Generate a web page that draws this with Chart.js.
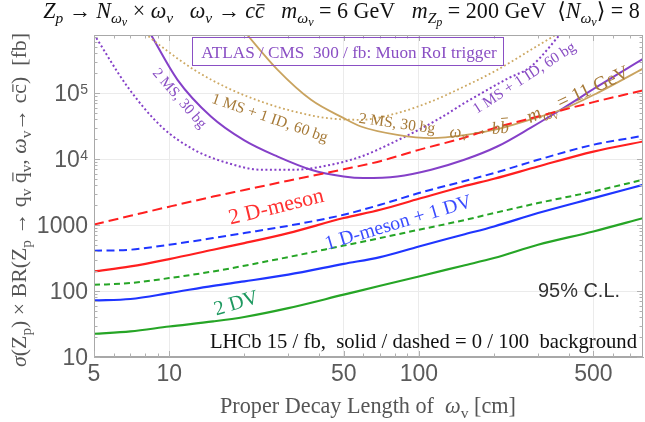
<!DOCTYPE html>
<html><head><meta charset="utf-8">
<script src="https://cdn.jsdelivr.net/npm/chart.js@4.4.1/dist/chart.umd.min.js"></script>
<style>html,body{margin:0;padding:0;background:#fff}canvas{display:block}</style>
</head><body>
<canvas id="c" width="645" height="422"></canvas>
<script>
// ---------------- data ----------------
const xTickVals = [5, 10, 50, 100, 500];
const xTickLabels = ['5', '10', '50', '100', '500'];
const yTickVals = [10, 100, 1000, 1e4, 1e5];
const yTickBase = ['10', '100', '1000', '10', '10'];
const yTickExp = ['', '', '', '4', '5'];

// LHCb 15/fb curves (solid = 0 background, dashed = 100 background)
const lhcbX = [5, 7, 10, 15, 20, 30, 50, 70, 100, 150, 200, 300, 500, 790];
const twoDV_0bg = [22.5, 24.4, 29, 34.6, 40.4, 55, 88, 120, 166, 242, 316, 502, 800, 1270];
const twoDV_100bg = [124, 132, 157, 198, 242, 327, 488, 635, 849, 1175, 1520, 2155, 3230, 4860];
const dmDV_0bg = [72, 75.7, 93, 120, 140, 177, 258, 327, 474, 713, 953, 1520, 2565, 4075];
const dmDV_100bg = [408, 423, 503, 635, 756, 975, 1432, 2030, 3055, 4580, 6140, 9750, 16500, 22500];
const twoDM_0bg = [198, 236, 305, 423, 533, 756, 1277, 1706, 2500, 3845, 5030, 7725, 13000, 18500];
const twoDM_100bg = [1020, 1380, 1900, 2700, 3400, 4700, 7000, 9300, 13800, 20800, 29500, 44200, 73000, 110000];

// ATLAS/CMS 300/fb, muon RoI trigger, omega -> c cbar (purple)
const msmsX = [8.4, 10.8, 14.7, 20, 27.2, 37, 50, 60, 82, 112, 152, 206, 281, 381, 518, 790];
const msmsY = [800000, 159000, 44200, 19200, 10900, 6900, 5450, 5150, 5450, 6900, 9750, 15500, 30000, 60000, 125000, 330000];
const msidX = [5, 6.8, 9.3, 12.6, 17.2, 23.3, 31.7, 43, 58.6, 82, 122, 152, 226, 281, 385];
const msidY = [780000, 126000, 31200, 13800, 8700, 6900, 6900, 8000, 10900, 19200, 42000, 70500, 165000, 253000, 950000];

// omega -> b bbar, m = 11 GeV (gold)
const bbMsmsX = [20, 27.2, 37, 50, 58.6, 82, 112, 152, 206, 281, 381, 518, 790];
const bbMsmsY = [860000, 225000, 79100, 41800, 31200, 23300, 20800, 23000, 28500, 40000, 58000, 100000, 235000];
const bbMsidX = [8.0, 9.3, 12.6, 17.2, 23.3, 31.7, 43, 58.6, 82, 112, 152, 206, 281, 370];
const bbMsidY = [800000, 510000, 225000, 119000, 74600, 52600, 41800, 39400, 49800, 74600, 126000, 225000, 453000, 850000];

// ---------------- styling ----------------
const SERIF = '"Liberation Serif", "DejaVu Serif", serif';
const SANS = '"Liberation Sans", Arial, sans-serif';
const COL = {red:'#ff1f1f', blue:'#1f35ff', green:'#26a526', purple:'#8540c8', gold:'#c9a35f', goldDot:'#cda862'};
const TXT = {red:'#ff3030', blue:'#3b4cff', green:'#1e9960', purple:'#8a4fc4', gold:'#a67a38'};

function pts(xs, ys){ return xs.map((x,i)=>({x:x, y:ys[i]})); }
function ds(xs, ys, color, dash, width){
  return {data: pts(xs, ys), borderColor: color, borderWidth: width||2, borderDash: dash||[],
          pointRadius: 0, fill: false, cubicInterpolationMode: 'monotone'};
}

// ---------------- rich text helper ----------------
function segFont(f, size, fam){
  const sz = size*(f.includes('S')?0.55:f.includes('s')?0.7:f.includes('p')?0.6:1);
  return [(f.includes('i')?'italic ':'') + sz.toFixed(2) + 'px ' + fam, sz];
}
function measureRich(ctx, segs, size, fam){
  let w = 0;
  for (const [t,f] of segs){ ctx.font = segFont(f||'', size, fam)[0]; w += ctx.measureText(t).width; }
  return w;
}
function drawRich(ctx, segs, o){
  const fam = o.family || SERIF;
  let size = o.size || 16;
  ctx.save();
  if (o.width){ size = size*o.width/measureRich(ctx, segs, size, fam); }
  const W = measureRich(ctx, segs, size, fam);
  ctx.translate(o.x, o.y);
  ctx.rotate((o.angle||0)*Math.PI/180);
  ctx.fillStyle = o.color; ctx.strokeStyle = o.color;
  ctx.textBaseline = 'alphabetic'; ctx.textAlign = 'left';
  let x = o.align==='left' ? 0 : o.align==='right' ? -W : -W/2;
  const by = o.valign==='baseline' ? 0 : size*0.33;
  for (const [t,f0] of segs){
    const f = f0||'';
    const [font, sz] = segFont(f, size, fam);
    ctx.font = font;
    const dy = f.includes('S') ? size*0.36 : f.includes('s') ? size*0.22 : f.includes('p') ? -size*0.38 : 0;
    ctx.fillText(t, x, by+dy);
    const w = ctx.measureText(t).width;
    if (f.includes('b') || f.includes('B')){
      const yy = by + dy - sz*(f.includes('B')?0.86:0.6);
      ctx.lineWidth = Math.max(0.8, sz*0.055);
      ctx.beginPath(); ctx.moveTo(x+w*0.18, yy); ctx.lineTo(x+w*0.98, yy); ctx.stroke();
    }
    x += w;
  }
  ctx.restore();
}

// ---------------- texts ----------------
const titleSegs = [['Z','i'],['p','is'],[' → ',''],['N','i'],['ω','is'],['v','iS'],[' × ',''],['ω','i'],['v','is'],['   ',''],
  ['ω','i'],['v','is'],[' → ',''],['c','i'],['c','ib'],['   ',''],['m','i'],['ω','is'],['v','iS'],[' = 6 GeV   ',''],
  ['m','i'],['Z','is'],['p','iS'],[' = 200 GeV  ',''],['⟨',''],['N','i'],['ω','is'],['v','iS'],['⟩ = 8','']];
const yTitleSegs = [['σ','i'],['(Z',''],['p','s'],[') × BR(Z',''],['p','s'],[' → q',''],['v','s'],[' ',''],['q','b'],['v','s'],
  [', ',''],['ω','i'],['v','s'],['→ c',''],['c','b'],[')  [fb]','']];
const xTitleSegs = [['Proper Decay Length of  ',''],['ω','i'],['v','s'],[' [cm]','']];

const labels = [
  {segs:[['2 MS, 30 bg','']], x:180, y:98, angle:49, width:74, color:TXT.purple},
  {segs:[['1 MS + 1 ID, 60 bg','']], x:270, y:117.5, angle:19, width:122, color:TXT.gold},
  {segs:[['2 MS, 30 bg','']], x:397, y:123, angle:8, width:77, color:TXT.gold},
  {segs:[['ω','i'],['v','is'],[' → ',''],['b','i'],['b','iB']], x:479, y:129.5, angle:-5, width:60, color:TXT.gold},
  {segs:[['m','i'],['ω','is'],['v','iS'],[' = 11 GeV','']], x:577.5, y:94, angle:-25, width:111, color:TXT.gold},
  {segs:[['1 MS + 1 ID, 60 bg','']], x:524, y:77.5, angle:-33, width:119, color:TXT.purple},
  {segs:[['2 D-meson','']], x:276, y:206, angle:-13.8, width:97, color:TXT.red},
  {segs:[['1 D-meson + 1 DV','']], x:398, y:222, angle:-16.5, width:152, color:TXT.blue},
  {segs:[['2 DV','']], x:236, y:302.5, angle:-16.5, width:45, color:TXT.green},
];

const textPlugin = {
  id: 'texts',
  afterDraw(chart){
    const ctx = chart.ctx, ca = chart.chartArea;
    const xs = chart.scales.x, ys = chart.scales.y;
    // frame
    ctx.save();
    ctx.strokeStyle = '#a8a8a8'; ctx.lineWidth = 1;
    ctx.strokeRect(ca.left+0.5, ca.top+0.5, ca.right-ca.left-1, ca.bottom-ca.top-1);
    // minor / major ticks (inside)
    ctx.strokeStyle = '#b0b0b0';
    for (const d of [1,10,100]) for (let k=1;k<=9;k++){
      const v=k*d; if (v<5 || v>790) continue;
      const px = Math.round(xs.getPixelForValue(v))+0.5, L = k===1||k===5 ? 6 : 3.5;
      ctx.beginPath(); ctx.moveTo(px, ca.bottom); ctx.lineTo(px, ca.bottom-L);
      ctx.moveTo(px, ca.top); ctx.lineTo(px, ca.top+L); ctx.stroke();
    }
    for (const d of [10,100,1000,1e4,1e5]) for (let k=1;k<=9;k++){
      const v=k*d; if (v<10 || v>7.6e5) continue;
      const py = Math.round(ys.getPixelForValue(v))+0.5, L = k===1 ? 6 : 3.5;
      ctx.beginPath(); ctx.moveTo(ca.left, py); ctx.lineTo(ca.left+L, py);
      ctx.moveTo(ca.right, py); ctx.lineTo(ca.right-L, py); ctx.stroke();
    }
    // y tick labels
    ctx.fillStyle = '#5a5a5a'; ctx.textBaseline = 'middle';
    yTickVals.forEach((v,i)=>{
      const py = ys.getPixelForValue(v) + 1.5;
      let xr = ca.left - 6;
      if (yTickExp[i]){
        ctx.font = '14px ' + SANS; ctx.textAlign = 'right';
        ctx.fillText(yTickExp[i], xr, py - 4.5);
        xr -= ctx.measureText(yTickExp[i]).width + 0.5;
      }
      ctx.font = '23px ' + SANS; ctx.textAlign = 'right';
      ctx.fillText(yTickBase[i], xr, py);
    });
    ctx.restore();

    // titles
    drawRich(ctx, titleSegs, {x:341.5, y:18, width:597, size:17, color:'#111', valign:'baseline'});
    drawRich(ctx, yTitleSegs, {x:26, y:200, angle:-90, width:334, size:18, color:'#555', valign:'baseline'});
    drawRich(ctx, xTitleSegs, {x:368, y:413, width:296, size:20, color:'#555', valign:'baseline'});

    // ATLAS/CMS box
    ctx.save();
    ctx.strokeStyle = TXT.purple; ctx.lineWidth = 1;
    ctx.strokeRect(192.5, 37.5, 311, 28);
    ctx.restore();
    drawRich(ctx, [['ATLAS / CMS  300 / fb: Muon RoI trigger','']], {x:349, y:58, width:296, size:18, color:TXT.purple, valign:'baseline'});

    // curve labels
    for (const l of labels) drawRich(ctx, l.segs, {x:l.x, y:l.y, angle:l.angle, width:l.width, size:16, color:l.color});

    drawRich(ctx, [['95% C.L.','']], {x:579, y:296.5, width:82, size:18, family:SANS, color:'#333', valign:'baseline'});
    drawRich(ctx, [['LHCb 15 / fb,  solid / dashed = 0 / 100  background','']], {x:423.5, y:348, width:427, size:19, color:'#111', valign:'baseline'});
  }
};

new Chart(document.getElementById('c'), {
  type: 'line',
  data: {datasets: [
    ds(lhcbX, twoDV_0bg, COL.green, [], 2.2),
    ds(lhcbX, twoDV_100bg, COL.green, [6,4], 2),
    ds(lhcbX, dmDV_0bg, COL.blue, [], 2.2),
    ds(lhcbX, dmDV_100bg, COL.blue, [8,4.5], 2),
    ds(lhcbX, twoDM_0bg, COL.red, [], 2.2),
    ds(lhcbX, twoDM_100bg, COL.red, [10,5], 2),
    ds(bbMsidX, bbMsidY, COL.goldDot, [1.8,2.6], 1.8),
    ds(bbMsmsX, bbMsmsY, COL.gold, [], 1.8),
    ds(msidX, msidY, COL.purple, [2,2.5], 2),
    ds(msmsX, msmsY, COL.purple, [], 2),
  ]},
  options: {
    responsive: false, animation: false,
    layout: {padding: {top: 35, right: 2, left: 0, bottom: 0}},
    plugins: {legend: {display: false}, tooltip: {enabled: false}, title: {display: false}},
    scales: {
      x: {type: 'logarithmic', min: 5, max: 790,
          afterBuildTicks: s => { s.ticks = xTickVals.map(v => ({value: v})); },
          afterFit: s => { s.height = 65; },
          ticks: {autoSkip: false, maxRotation: 0, padding: 4, color: '#5a5a5a',
                  font: {family: SANS, size: 23},
                  callback: (v, i) => xTickLabels[i]},
          grid: {color: '#ebebeb', drawTicks: false},
          border: {color: '#a8a8a8'}},
      y: {type: 'logarithmic', min: 10, max: 7.6e5,
          afterBuildTicks: s => { s.ticks = yTickVals.map(v => ({value: v})); },
          afterFit: s => { s.width = 94; },
          ticks: {display: false},
          grid: {color: '#ebebeb', drawTicks: false},
          border: {color: '#a8a8a8'}}
    }
  },
  plugins: [textPlugin]
});
</script>
</body></html>
